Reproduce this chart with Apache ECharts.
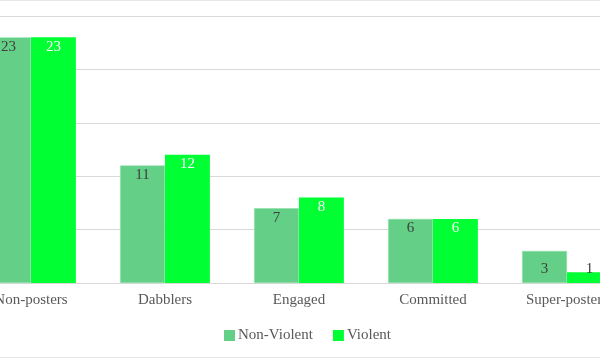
<!DOCTYPE html>
<html><head><meta charset="utf-8">
<script src="https://cdn.jsdelivr.net/npm/echarts@6/dist/echarts.min.js"></script>
<style>html,body{margin:0;padding:0;background:#fff;overflow:hidden;width:600px;height:360px;position:relative}
#c{width:670px;height:360px;position:absolute;left:-36px;top:0}
#t{position:absolute;left:0;top:0;width:600px;height:1px;background:#e6e6e6}
#b{position:absolute;left:0;top:357px;width:600px;height:1px;background:#e6e6e6}</style>
</head><body><div id="c"></div><div id="t"></div><div id="b"></div>
<script>
const categories = ['Non-posters', 'Dabblers', 'Engaged', 'Committed', 'Super-posters'];
const nonViolent = [23, 11, 7, 6, 3];
const violent = [23, 12, 8, 6, 1];
const seriesNames = ['Non-Violent', 'Violent'];

const FONT = '"Liberation Serif", "DejaVu Serif", serif';
function items(vals, color) {
  return vals.map(v => {
    const small = v <= 3;
    return {
      value: v,
      label: small
        ? { position: 'insideBottom', distance: 6, color: '#404040' }
        : { position: 'insideTop', distance: 2, color: color }
    };
  });
}
const chart = echarts.init(document.getElementById('c'), null, { renderer: 'canvas' });
chart.setOption({
  animation: false,
  textStyle: { fontFamily: FONT },
  grid: { left: 0, right: 0, top: 16, bottom: 77, containLabel: false },
  legend: {
    bottom: 12, left: 255, itemWidth: 11, itemHeight: 11, itemGap: 20,
    icon: 'rect',
    itemStyle: { borderWidth: 0 },
    textStyle: { fontFamily: FONT, fontSize: 15, color: '#595959', padding: [0, 0, 0, -2] },
    data: seriesNames
  },
  xAxis: {
    type: 'category', data: categories,
    axisLine: { lineStyle: { color: '#d9d9d9' } },
    axisTick: { show: false },
    axisLabel: { fontFamily: FONT, fontSize: 15, color: '#595959', margin: 10, interval: 0 }
  },
  yAxis: {
    type: 'value', min: 0, max: 25, interval: 5,
    axisLabel: { show: false }, axisLine: { show: false }, axisTick: { show: false },
    splitLine: { lineStyle: { color: '#d9d9d9' } }
  },
  series: [
    {
      name: seriesNames[0], type: 'bar', data: items(nonViolent, '#404040'),
      barGap: '0%', barCategoryGap: '33%',
      itemStyle: { color: '#63CF87', borderColor: '#8fe0aa', borderWidth: 0.6 },
      label: { show: true, fontFamily: FONT, fontSize: 15 }
    },
    {
      name: seriesNames[1], type: 'bar', data: items(violent, '#ffffff'),
      barGap: '0%', barCategoryGap: '33%',
      itemStyle: { color: '#00FF33' },
      label: { show: true, fontFamily: FONT, fontSize: 15 }
    }
  ]
});
</script></body></html>
